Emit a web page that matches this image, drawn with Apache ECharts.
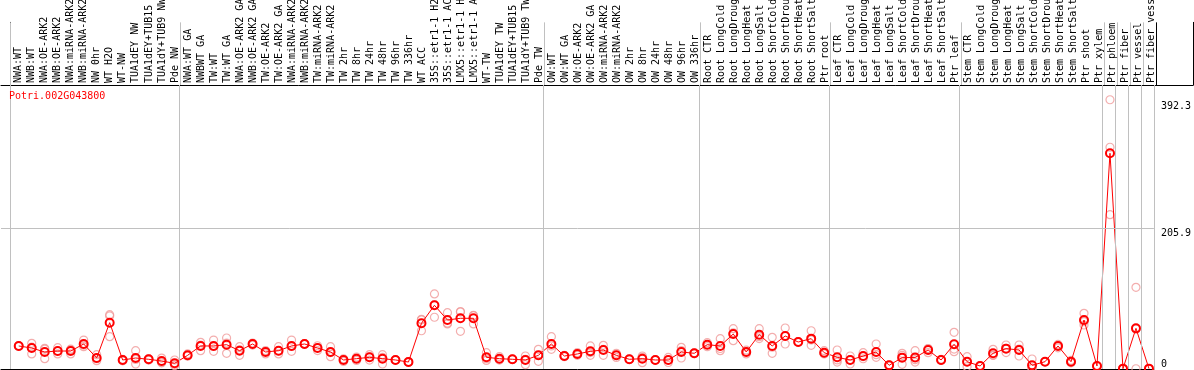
<!DOCTYPE html>
<html>
<head>
<meta charset="utf-8">
<script src="https://cdn.jsdelivr.net/npm/echarts@6/dist/echarts.min.js"></script>
<style>
  html, body { margin: 0; padding: 0; background: #fff; }
  #chart { width: 1194px; height: 370px; }
</style>
</head>
<body>
<div id="chart"></div>
<script>
const geneTitle = 'Potri.002G043800';

const categories = [
  'NWA:WT','NWB:WT','NWA:OE-ARK2','NWB:OE-ARK2','NWA:miRNA-ARK2','NWB:miRNA-ARK2','NW 0hr','WT H2O','WT-NW',
  'TUA1dEY NW','TUA1dEY+TUB15 NW','TUA1dY+TUB9 NW','Pde NW',
  'NWA:WT GA','NWBWT GA','TW:WT','TW:WT GA','NWA:OE-ARK2 GA','NWB:OE-ARK2 GA','TW:OE-ARK2','TW:OE-ARK2 GA',
  'NWA:miRNA-ARK2 GA','NWB:miRNA-ARK2 GA','TW:miRNA-ARK2','TW:miRNA-ARK2 GA',
  'TW 2hr','TW 8hr','TW 24hr','TW 48hr','TW 96hr','TW 336hr',
  'WT ACC','35S::etr1-1 H2O','35S::etr1-1 ACC','LMX5::etr1-1 H2O','LMX5::etr1-1 ACC',
  'WT-TW','TUA1dEY TW','TUA1dEY+TUB15 TW','TUA1dY+TUB9 TW','Pde TW',
  'OW:WT','OW:WT GA','OW:OE-ARK2','OW:OE-ARK2 GA','OW:miRNA-ARK2','OW:miRNA-ARK2 GA',
  'OW 2hr','OW 8hr','OW 24hr','OW 48hr','OW 96hr','OW 336hr',
  'Root CTR','Root LongCold','Root LongDrought','Root LongHeat','Root LongSalt',
  'Root ShortCold','Root ShortDrought','Root ShortHeat','Root ShortSalt','Ptr root',
  'Leaf CTR','Leaf LongCold','Leaf LongDrought','Leaf LongHeat','Leaf LongSalt',
  'Leaf ShortCold','Leaf ShortDrought','Leaf ShortHeat','Leaf ShortSalt','Ptr leaf',
  'Stem CTR','Stem LongCold','Stem LongDrought','Stem LongHeat','Stem LongSalt',
  'Stem ShortCold','Stem ShortDrought','Stem ShortHeat','Stem ShortSalt','Ptr shoot',
  'Ptr xylem','Ptr phloem','Ptr fiber','Ptr vessel','Ptr fiber vessel'
];

// group boundaries (category index where a new group starts)
const groupBounds = [0, 13, 41, 53, 63, 73, 84, 85, 86, 87, 88];

const meanValues = [
  33.7,30.7,24.9,26.3,26.3,36.6,16.1,67.8,13.2,16.1,14.2,11.7,8.3,
  20,33.7,33.7,35.6,26.8,36.6,24.9,26.8,33.7,36.6,30.7,24.9,13.2,15.1,17.1,15.1,13.2,10.2,
  66.9,93.2,71.7,74.2,74.2,17.1,15.1,14.2,13.2,20,
  36.6,19,22,25.9,27.8,20,14.2,15.1,13.2,13.2,24.9,23,
  35.6,33.7,51.2,24.9,50.2,33.7,48.3,39.5,44.4,23.9,
  17.1,13.2,19,24.9,5.4,16.6,16.9,27.8,13.2,36.1,
  10.7,4.4,23,29.8,27.8,5.4,10.7,33.7,10.7,71.7,
  4.4,315.7,0.5,59.5,0.5
];
const rep1 = [
  33,37.6,30.3,31.2,29,42.4,21,79.5,12,26.8,15,16,13.2,
  22,39,42.4,45.4,32.7,38,27,32.7,42.4,37,34,32.7,15,17.5,21,21,13,11,
  72.7,109.8,82.4,83.4,78.6,23.9,18,14,19,28.8,
  47.3,20,24,33.7,34.7,23,14,19,13,17,31.7,23,
  38.5,44.4,59,27.5,59,46.3,60,40,56,26.8,
  27.8,19,23.9,36.6,6,23,26.8,23.9,13,53.7,
  18,4,28.8,35.1,35.1,14.6,11,36,12.5,81.5,
  4,394,0.4,119.5,0.5
];
const rep2 = [
  34,22,15.1,22,22,32.7,12.2,77.6,14,7.3,13,9,7,
  19,26.8,25.9,23,20,35,22,22,25.9,36,27,18,11,12.5,13,7.3,13.5,9.5,
  56,75.7,65.9,55.2,65.9,15,13,14.5,6.3,11.2,
  28.8,18,20,20,20,17,14.5,9.3,13.5,9.5,16.1,23.5,
  32.7,26.8,41.5,22,47.3,23,36.6,39,34.7,22,
  10.2,7.3,15,17.1,5,6.8,10.2,30,14,25.4,
  3.4,5,20,24,19,0.8,10.5,31,9,64.4,
  5,324.5,0.6,0.4,0.4
];
const rep3 = [
  34,32,29,26,28,35,15,47.3,13.5,14,14.5,10,5,
  19,35,33,38,28,37,25.5,26,33,37,31,24,13.5,15.3,17.3,17,13,10,
  72,94,67,84,78,12.5,14.5,14,14.3,20,
  33.7,19,22,24,28.7,20,14,17,13,13,27,22.5,
  35.6,30,53,25,44.5,32,48.3,39.5,42.5,23,
  13.3,13.3,18,21,5.2,20,13.7,29.5,12.6,29.2,
  10.7,4.2,20.2,30.3,29.3,0.8,10.6,34,10.6,69.2,
  4.2,225.8,0.5,58.6,0.6
];

const yTickTop = [205.9, 392.3];
const yTickBottom = [0];
const yMax = 415.6;

// axis geometry (in category units)
const xMin = -0.745;
const xMaxPlot = 88;
const xMaxLabel = 90.84;
const pos = 0.62; // position of a mark inside its category band

const FONT = 'DejaVu Sans Mono';
const GRIDC = '#c0c0c0';

const toPts = arr => arr.map((v, i) => [i + pos, v]);

const repStyle = {
  color: 'rgba(0,0,0,0)',
  borderColor: '#f09a9a',
  borderWidth: 1.2
};

const vLinesA = groupBounds.map(b => ({
  xAxis: b,
  lineStyle: { color: b === 88 ? '#000' : GRIDC, width: 1, type: 'solid' }
}));
const vLinesB = groupBounds.map(b => ({ xAxis: b }));

const option = {
  animation: false,
  backgroundColor: '#fff',
  title: {
    text: geneTitle,
    left: 9, top: 91, padding: 0,
    textStyle: { fontFamily: FONT, fontSize: 10, fontWeight: 'normal', color: '#ff0000', lineHeight: 10 }
  },
  grid: [
    { left: 1, right: 1, top: 0, height: 85 },
    { left: 1, right: 38, top: 85, bottom: 1 }
  ],
  xAxis: [
    {
      type: 'value', gridIndex: 0, min: xMin, max: xMaxLabel, position: 'bottom',
      axisLine: { show: true, lineStyle: { color: '#000', width: 1 } },
      axisTick: { show: false }, splitLine: { show: false },
      axisLabel: {
        show: true, inside: true, rotate: 90, margin: 2,
        customValues: categories.map((_, i) => i + pos),
        formatter: v => categories[Math.round(v - pos)] || '',
        fontFamily: FONT, fontSize: 10, color: '#000'
      }
    },
    {
      type: 'value', gridIndex: 1, min: xMin, max: xMaxPlot, position: 'bottom',
      axisLine: { show: true, lineStyle: { color: '#000', width: 1 } },
      axisTick: { show: false }, splitLine: { show: false }, axisLabel: { show: false }
    }
  ],
  yAxis: [
    { type: 'value', gridIndex: 0, min: 0, max: 1, position: 'left',
      axisLine: { show: true, lineStyle: { color: '#000' } }, axisTick: { show: false },
      axisLabel: { show: false }, splitLine: { show: false } },
    { type: 'value', gridIndex: 0, min: 0, max: 1, position: 'right',
      axisLine: { show: true, lineStyle: { color: '#000' } }, axisTick: { show: false },
      axisLabel: { show: false }, splitLine: { show: false } },
    { type: 'value', gridIndex: 1, min: 0, max: yMax, position: 'left',
      axisLine: { show: true, lineStyle: { color: '#000' } }, axisTick: { show: false },
      axisLabel: { show: false }, splitLine: { show: false } },
    { type: 'value', gridIndex: 1, min: 0, max: yMax, position: 'right',
      axisLine: { show: false }, axisTick: { show: false }, splitLine: { show: false },
      axisLabel: { show: true, customValues: yTickTop, formatter: v => String(v),
        verticalAlign: 'top', align: 'left', margin: 7, fontFamily: FONT, fontSize: 10, color: '#000' } },
    { type: 'value', gridIndex: 1, min: 0, max: yMax, position: 'right',
      axisLine: { show: false }, axisTick: { show: false }, splitLine: { show: false },
      axisLabel: { show: true, customValues: yTickBottom, formatter: v => String(v),
        verticalAlign: 'bottom', align: 'left', margin: 7, fontFamily: FONT, fontSize: 10, color: '#000' } }
  ],
  series: [
    {
      type: 'line', xAxisIndex: 0, yAxisIndex: 0, data: [], silent: true, showSymbol: false,
      markLine: { silent: true, symbol: 'none', label: { show: false }, animation: false,
        emphasis: { disabled: true }, data: vLinesA }
    },
    {
      type: 'line', xAxisIndex: 1, yAxisIndex: 2, data: [], silent: true, showSymbol: false, z: 1,
      markLine: { silent: true, symbol: 'none', label: { show: false }, animation: false,
        emphasis: { disabled: true },
        lineStyle: { color: GRIDC, width: 1, type: 'solid' },
        data: vLinesB.concat([{ yAxis: 205.9 }]) }
    },
    { type: 'scatter', xAxisIndex: 1, yAxisIndex: 2, data: toPts(rep1), symbol: 'circle', symbolSize: 8, itemStyle: repStyle, silent: true, z: 2 },
    { type: 'scatter', xAxisIndex: 1, yAxisIndex: 2, data: toPts(rep2), symbol: 'circle', symbolSize: 8, itemStyle: repStyle, silent: true, z: 2 },
    { type: 'scatter', xAxisIndex: 1, yAxisIndex: 2, data: toPts(rep3), symbol: 'circle', symbolSize: 8, itemStyle: repStyle, silent: true, z: 2 },
    {
      type: 'line', xAxisIndex: 1, yAxisIndex: 2, data: toPts(meanValues), silent: true, z: 3,
      symbol: 'circle', symbolSize: 8, showAllSymbol: true,
      lineStyle: { color: '#ff0000', width: 1 },
      itemStyle: { color: 'rgba(0,0,0,0)', borderColor: '#ff0000', borderWidth: 2 }
    }
  ]
};

const chart = echarts.init(document.getElementById('chart'), null, { renderer: 'canvas' });
chart.setOption(option);
</script>
</body>
</html>
